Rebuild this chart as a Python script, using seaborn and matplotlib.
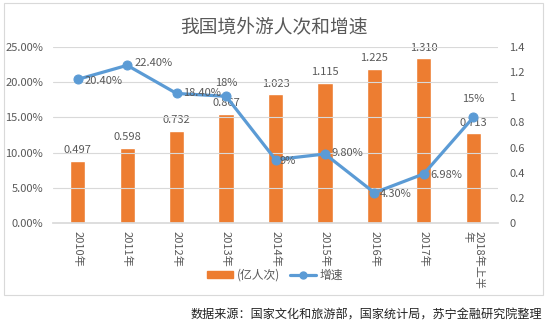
import matplotlib
matplotlib.use("Agg")
import matplotlib.pyplot as plt
import seaborn as sns
import pandas as pd
from matplotlib.patches import Rectangle
from matplotlib.lines import Line2D
from matplotlib.patches import Patch

years = ['2010年', '2011年', '2012年', '2013年', '2014年', '2015年', '2016年', '2017年', '2018年上半\n年']
visits = [0.497, 0.598, 0.732, 0.867, 1.023, 1.115, 1.225, 1.310, 0.713]
growth = [20.40, 22.40, 18.40, 18.0, 9.0, 9.80, 4.30, 6.98, 15.0]
growth_labels = ['20.40%', '22.40%', '18.40%', '18%', '9%', '9.80%', '4.30%', '6.98%', '15%']
left_ticks = [0, 5, 10, 15, 20, 25]
right_ticks = [0, 0.2, 0.4, 0.6, 0.8, 1.0, 1.2, 1.4]
right_tick_labels = ['0', '0.2', '0.4', '0.6', '0.8', '1', '1.2', '1.4']

sns.set_theme(style="white")
plt.rcParams['font.family'] = ['Noto Sans CJK SC', 'DejaVu Sans']

ORANGE = '#ED7D31'
BLUE = '#5B9BD5'
GRAY = '#595959'
GRID = '#D9D9D9'
FS = 8

W, H = 554, 323
fig = plt.figure(figsize=(W / 100, H / 100), dpi=100)
fig.patch.set_facecolor('white')

# outer chart border
fig.add_artist(Rectangle((4 / W, 1 - 295 / H), 539 / W, 292 / H, transform=fig.transFigure,
                         fill=False, edgecolor=GRID, linewidth=0.8))

L, R, T, B = 53, 498, 47, 223
ax = fig.add_axes([L / W, 1 - B / H, (R - L) / W, (B - T) / H])

df = pd.DataFrame({'year': years, 'visits': visits, 'growth': growth})
sns.barplot(data=df, x='year', y='visits', color=ORANGE, width=0.31, ax=ax, saturation=1)
ax.set_ylim(0, 1.4)
ax.set_xlim(-0.5, len(years) - 0.5)
ax.set_xlabel('')
ax.set_ylabel('')

ax2 = ax.twinx()
ax.yaxis.tick_right()
ax2.yaxis.tick_left()

ax.set_yticks(right_ticks)
ax.set_yticklabels(right_tick_labels, fontsize=FS, color=GRAY)
ax.set_xticks(range(len(years)))
ax.set_xticklabels(years, rotation=-90, fontsize=FS, color=GRAY, va='top', ha='center',
                   multialignment='left', linespacing=1.05)
ax.tick_params(axis='x', length=0, pad=6)
ax.tick_params(axis='y', length=0, pad=8)
for s in ['top', 'left', 'right']:
    ax.spines[s].set_visible(False)
ax.spines['bottom'].set_color(GRID)
for i, v in enumerate(visits):
    ax.annotate(f'{v:.3f}', (i, v), xytext=(0, 4), textcoords='offset points',
                ha='center', va='bottom', fontsize=FS, color=GRAY)

ax2.set_ylim(0, 25)
for t in left_ticks[1:]:
    ax2.axhline(t, color=GRID, linewidth=0.8, zorder=0)
sns.lineplot(x=list(range(len(years))), y=growth, ax=ax2, color=BLUE, linewidth=2.3,
             marker='o', markersize=6.5, markeredgecolor=BLUE, zorder=3)
ax2.set_yticks(left_ticks)
ax2.set_yticklabels([f'{t:.2f}%' for t in left_ticks], fontsize=FS, color=GRAY)
ax2.tick_params(axis='both', length=0, pad=7)
for s in ax2.spines.values():
    s.set_visible(False)
ax2.set_xlim(-0.5, len(years) - 0.5)

offsets = {0: (5, -1, 'left', 'center'), 1: (5, 2, 'left', 'center'), 2: (5, 0, 'left', 'center'),
           3: (0, 6, 'center', 'bottom'), 4: (3, -1, 'left', 'center'), 5: (5, 1, 'left', 'center'),
           6: (4, -1, 'left', 'center'), 7: (5, -1, 'left', 'center'), 8: (0, 10, 'center', 'bottom')}
for i, (g, lab) in enumerate(zip(growth, growth_labels)):
    dx, dy, ha, va = offsets[i]
    ax2.annotate(lab, (i, g), xytext=(dx, dy), textcoords='offset points',
                 ha=ha, va=va, fontsize=FS, color=GRAY)

fig.text(274 / W, 1 - 27 / H, '我国境外游人次和增速', ha='center', va='center',
         fontsize=13.5, color=GRAY, fontweight='medium')

handles = [Patch(facecolor=ORANGE, edgecolor=ORANGE),
           Line2D([0], [0], color=BLUE, linewidth=2.3, marker='o', markersize=5)]
fig.legend(handles, ['(亿人次)', '增速'], loc='center', bbox_to_anchor=(275 / W, 1 - 275 / H),
           ncol=2, frameon=False, fontsize=8.5, labelcolor=GRAY, handlelength=2.2,
           handleheight=0.6, handletextpad=0.3, columnspacing=0.8)

fig.text(542 / W, 1 - 315 / H, '数据来源：国家文化和旅游部，国家统计局，苏宁金融研究院整理',
         ha='right', va='center', fontsize=8.7, color='#222222', style='italic')

fig.savefig('out.png', dpi=100, facecolor='white')
